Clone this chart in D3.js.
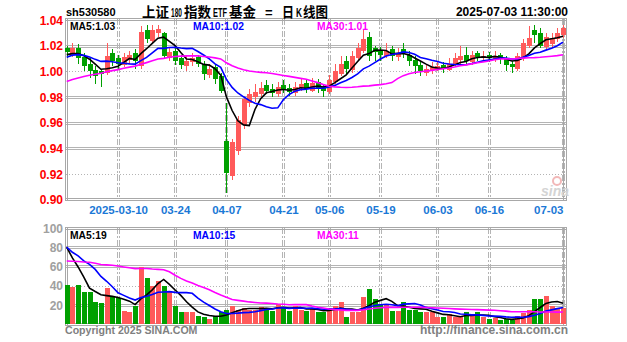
<!DOCTYPE html>
<html><head><meta charset="utf-8">
<script src="https://cdn.jsdelivr.net/npm/d3@7/dist/d3.min.js"></script>
<style>body{margin:0;background:#fff;}svg{display:block;}</style>
</head><body><svg id="c" width="627" height="342"></svg>
<script>
const symbol = "sh530580";
const titleParts = ["上证", "180", "指数", "ETF", "基金", "=", "日", "K", "线图"];
const stamp = "2025-07-03 11:30:00";
const dates = ["02-25","02-26","02-27","02-28","03-03","03-04","03-05","03-06","03-07","03-10",
"03-11","03-12","03-13","03-14","03-17","03-18","03-19","03-20","03-21","03-24",
"03-25","03-26","03-27","03-28","03-31","04-01","04-02","04-03","04-07","04-08",
"04-09","04-10","04-11","04-14","04-15","04-16","04-17","04-18","04-21","04-22",
"04-23","04-24","04-25","04-28","04-29","04-30","05-06","05-07","05-08","05-09",
"05-12","05-13","05-14","05-15","05-16","05-19","05-20","05-21","05-22","05-23",
"05-26","05-27","05-28","05-29","05-30","06-03","06-04","06-05","06-06","06-09",
"06-10","06-11","06-12","06-13","06-16","06-17","06-18","06-19","06-20","06-23",
"06-24","06-25","06-26","06-27","06-30","07-01","07-02","07-03"];
const open = [1.018,1.013,1.018,1.011,1.006,1.001,1.000,0.999,1.014,1.010,
1.005,1.009,1.014,1.004,1.032,1.024,1.030,1.030,1.010,1.016,
1.010,1.004,1.007,1.011,1.006,0.997,1.003,0.996,0.946,0.918,
0.938,0.958,0.975,0.980,0.982,0.989,0.986,0.982,0.989,0.987,
0.983,0.987,0.991,0.985,0.992,0.988,0.984,0.992,0.998,1.008,
1.001,1.010,1.016,1.027,1.018,1.016,1.012,1.017,1.011,1.017,
1.013,1.009,1.005,0.999,1.001,1.002,1.005,1.001,1.005,1.009,
1.013,1.007,1.014,1.010,1.013,1.009,1.013,1.010,1.006,1.002,
1.010,1.020,1.032,1.030,1.019,1.021,1.025,1.028];
const high = [1.020,1.022,1.021,1.014,1.010,1.004,1.002,1.022,1.017,1.013,
1.014,1.016,1.017,1.035,1.036,1.036,1.036,1.031,1.019,1.018,
1.013,1.012,1.014,1.013,1.008,1.006,1.005,0.999,0.975,0.947,
0.965,0.980,0.986,0.990,0.992,0.993,0.990,0.992,0.993,0.990,
0.992,0.994,0.993,0.995,0.994,0.990,0.997,1.006,1.012,1.012,
1.016,1.022,1.033,1.031,1.020,1.019,1.022,1.020,1.018,1.022,
1.016,1.012,1.008,1.006,1.007,1.008,1.007,1.010,1.014,1.020,
1.019,1.016,1.016,1.016,1.015,1.016,1.014,1.012,1.008,1.014,
1.025,1.035,1.036,1.034,1.030,1.030,1.034,1.036];
const low = [1.010,1.011,1.006,1.000,0.995,0.990,0.988,0.997,1.004,1.002,
1.003,1.006,1.002,1.002,1.022,1.021,1.027,1.010,1.008,1.005,
1.002,1.000,1.004,1.003,0.993,0.995,0.990,0.983,0.905,0.915,
0.935,0.955,0.972,0.976,0.980,0.982,0.980,0.980,0.983,0.981,
0.981,0.985,0.983,0.984,0.983,0.980,0.982,0.990,0.996,0.998,
0.999,1.008,1.014,1.008,1.008,1.008,1.010,1.008,1.008,1.010,
1.004,0.998,0.996,0.996,0.998,1.000,0.999,1.000,1.003,1.006,
1.005,1.005,1.008,1.008,1.007,1.007,1.006,1.000,0.999,1.000,
1.008,1.018,1.022,1.018,1.017,1.019,1.023,1.026];
const close = [1.015,1.018,1.010,1.004,1.000,0.996,0.998,1.012,1.008,1.006,
1.011,1.013,1.008,1.031,1.025,1.032,1.033,1.012,1.015,1.008,
1.005,1.008,1.010,1.006,0.998,1.002,0.994,0.985,0.921,0.945,
0.962,0.978,0.982,0.984,0.987,0.985,0.983,0.988,0.986,0.984,
0.988,0.990,0.986,0.991,0.987,0.985,0.993,1.000,1.006,1.002,
1.012,1.018,1.025,1.012,1.015,1.013,1.016,1.012,1.014,1.014,
1.008,1.004,1.000,1.002,1.003,1.004,1.002,1.006,1.010,1.012,
1.008,1.013,1.011,1.012,1.010,1.012,1.010,1.005,1.003,1.012,
1.022,1.026,1.028,1.020,1.027,1.026,1.030,1.034];
const volume = [41,39,41,33,33,23,22,37,29,27,
14,12,19,59,48,40,45,40,33,19,
12,12,12,8,7,5,8,12,15,19,
15,17,15,15,18,17,14,21,17,14,
19,15,14,16,12,12,17,19,23,7,
12,12,28,36,26,21,21,14,14,23,
15,15,12,12,12,7,7,10,7,7,
13,8,12,7,5,6,4,5,4,8,
11,15,26,26,29,19,17,17];
// closes and volumes of the 29 sessions before the first shown day (for the moving averages)
const priorClose = [0.972,0.975,0.970,0.968,0.973,0.978,0.976,0.980,0.983,0.981,0.985,0.984,0.988,0.986,0.990,0.992,0.996,0.988,0.992,0.995,1.002,1.006,1.010,1.012,1.015,1.014,1.010,1.012,1.014];
const priorVolume = [45,52,48,40,55,60,47,42,50,44,38,46,53,49,58,55,51,98,125,112,92,78,85,70,75,95,88,86,90];
const priceTicks = [0.90,0.92,0.94,0.96,0.98,1.00,1.02,1.04];
const volTicks = [20,40,60,80,100];
const tickDates = ["03-10","03-24","04-07","04-21","05-06","05-19","06-03","06-16","07-03"];
const tickLabels = ["2025-03-10","03-24","04-07","04-21","05-06","05-19","06-03","06-16","07-03"];
const maPeriods = [5,10,30];
const maColors = ["#000000","#0000ff","#ff00ff"];
const priceMaLabels = ["MA5:1.03","MA10:1.02","MA30:1.01"];
const volMaLabels = ["MA5:19","MA10:15","MA30:11"];

const svg = d3.select("#c");
const L = 66, R = 566;
const x = d3.scalePoint().domain(dates).range([66.7, 563]);
const yP = d3.scaleLinear().domain([0.90, 1.04]).range([199.5, 20]);
const yV = d3.scaleLinear().domain([0, 100]).range([324, 228]);
const grid = "#b4b4b4";
const latin = "'Liberation Sans', Arial, sans-serif";
const cjk = "'Noto Sans CJK SC', sans-serif";

function ma(prior, arr, n) {
  const full = prior.concat(arr);
  return arr.map((_, i) => {
    const end = i + prior.length;
    return d3.mean(full.slice(end - n + 1, end + 1));
  });
}

function panel(y, ticks, top, bottom, dotted) {
  const g = svg.append("g").attr("shape-rendering", "crispEdges");
  ticks.forEach(t => {
    const yy = Math.round(y(t));
    if (dotted.includes(t)) {
      g.append("line").attr("x1", L).attr("x2", R).attr("y1", yy + 0.5).attr("y2", yy + 0.5)
        .attr("stroke", grid).attr("stroke-dasharray", "1,2");
    } else {
      [-1, 1].forEach(o => g.append("line").attr("x1", L).attr("x2", R)
        .attr("y1", yy + o + 0.5).attr("y2", yy + o + 0.5).attr("stroke", grid));
    }
  });
  tickDates.forEach(d => {
    const xx = Math.round(x(d));
    [-1, 1].forEach(o => g.append("line").attr("x1", xx + o + 0.5).attr("x2", xx + o + 0.5)
      .attr("y1", top).attr("y2", bottom).attr("stroke", grid).attr("stroke-dasharray", "6,2,2,2"));
  });
  [L - 1, L + 1, R - 3, R].forEach(xx => g.append("line").attr("x1", xx + 0.5).attr("x2", xx + 0.5)
    .attr("y1", top - 1).attr("y2", bottom + 2).attr("stroke", "#a8a8a8"));
  [top - 1, top + 1, bottom - 1, bottom + 1].forEach(yy => g.append("line").attr("x1", L - 1).attr("x2", R + 1)
    .attr("y1", yy + 0.5).attr("y2", yy + 0.5).attr("stroke", "#a8a8a8"));
}

panel(yP, [0.92, 0.94, 0.96, 0.98, 1.00, 1.02], 19, 199, [1.00, 0.92]);
panel(yV, [20, 40, 60, 80], 228, 324, [40]);

// watermark
svg.append("circle").attr("cx", 557).attr("cy", 181).attr("r", 4).attr("fill", "none").attr("stroke", "#f2b8b8").attr("stroke-width", 2);
svg.append("text").attr("x", 541).attr("y", 196).text("sina").attr("font-family", latin)
  .attr("font-size", 14).attr("font-weight", "bold").attr("font-style", "italic").attr("fill", "#d4d4d4");

const red = "#ff5a5a", green = "#00a000";
const up = dates.map((_, i) => close[i] >= open[i]);

// candles
const cg = svg.append("g").attr("shape-rendering", "crispEdges");
dates.forEach((d, i) => {
  const cx = Math.round(x(d));
  const col = up[i] ? red : green;
  cg.append("rect").attr("x", cx).attr("width", 1)
    .attr("y", yP(high[i])).attr("height", Math.max(1, yP(low[i]) - yP(high[i]))).attr("fill", col);
  const t = yP(Math.max(open[i], close[i])), b = yP(Math.min(open[i], close[i]));
  cg.append("rect").attr("x", cx - 2).attr("width", 5)
    .attr("y", t).attr("height", Math.max(1, b - t)).attr("fill", col);
});

// volume bars
const vg = svg.append("g").attr("shape-rendering", "crispEdges");
dates.forEach((d, i) => {
  const cx = Math.round(x(d));
  vg.append("rect").attr("x", cx - 2).attr("width", 5)
    .attr("y", yV(volume[i])).attr("height", yV(0) - yV(volume[i]))
    .attr("fill", up[i] ? red : green);
});

// moving averages
maPeriods.forEach((n, k) => {
  const pm = ma(priorClose, close, n);
  const vm = ma(priorVolume, volume, n);
  const lineP = d3.line().x((_, i) => x(dates[i])).y(v => yP(v));
  const lineV = d3.line().x((_, i) => x(dates[i])).y(v => yV(v));
  svg.append("path").attr("d", lineP(pm)).attr("fill", "none").attr("stroke", maColors[k]).attr("stroke-width", 1.6);
  svg.append("path").attr("d", lineV(vm)).attr("fill", "none").attr("stroke", maColors[k]).attr("stroke-width", 1.6);
});

// axis labels (price)
const ax = svg.append("g").call(d3.axisLeft(yP).tickValues(priceTicks).tickFormat(d3.format(".2f")).tickSize(0).tickPadding(0))
  .attr("transform", "translate(63,0)");
ax.select(".domain").remove();
ax.selectAll("text").attr("fill", "#ff0000").attr("font-size", 12).attr("font-weight", "bold").attr("font-family", latin).attr("dy", "0.35em");

const axv = svg.append("g").call(d3.axisLeft(yV).tickValues(volTicks).tickFormat(d3.format("d")).tickSize(0).tickPadding(0))
  .attr("transform", "translate(63,0)");
axv.select(".domain").remove();
axv.selectAll("text").attr("fill", "#a0a0a0").attr("font-size", 12).attr("font-weight", "bold").attr("font-family", latin).attr("dy", "0.35em");

const axd = svg.append("g").call(d3.axisBottom(x).tickValues(tickDates).tickFormat((d, i) => tickLabels[i]).tickSize(0).tickPadding(0))
  .attr("transform", "translate(0,206)");
axd.select(".domain").remove();
axd.selectAll("text").attr("fill", "#1a78d6").attr("font-size", 11.5).attr("font-weight", "bold").attr("font-family", latin).attr("dy", "0.71em");
axd.selectAll("text").filter((d, i) => i === tickDates.length - 1).attr("text-anchor", "end");

// legends
const legX = [70, 193, 317];
priceMaLabels.forEach((t, k) => svg.append("text").attr("x", legX[k]).attr("y", 29.5).text(t)
  .attr("fill", maColors[k]).attr("font-size", 10.3).attr("font-weight", "bold").attr("font-family", latin));
volMaLabels.forEach((t, k) => svg.append("text").attr("x", legX[k]).attr("y", 239).text(t)
  .attr("fill", maColors[k]).attr("font-size", 10.3).attr("font-weight", "bold").attr("font-family", latin));

// header
svg.append("text").attr("x", 66).attr("y", 16).text(symbol).attr("font-size", 11).attr("font-weight", "bold").attr("font-family", latin).attr("fill", "#000");
// title pieces [left x, width, latin?]; each piece squeezed horizontally to its width
const titleLayout = [[142, 27, 0], [171, 11, 1], [184, 27, 0], [213, 14, 1], [229, 27, 0], [265, 10, 1], [282, 12, 0], [296, 6, 1], [303, 25, 0]];
titleParts.forEach((p, i) => {
  const [lx, w, isLatin] = titleLayout[i];
  const t = svg.append("text").attr("x", 0).attr("y", 0).text(p)
    .attr("font-family", isLatin ? latin : cjk).attr("font-weight", "bold")
    .attr("font-size", isLatin ? 13 : 14).attr("fill", "#000");
  const nat = t.node().getComputedTextLength();
  const sx = Math.min(1, w / nat);
  t.attr("transform", `translate(${lx},17) scale(${sx},1)`);
});
svg.append("text").attr("x", 568).attr("y", 16).attr("text-anchor", "end").text(stamp).attr("font-size", 12).attr("font-weight", "bold").attr("font-family", latin).attr("fill", "#000");

// footer
svg.append("text").attr("x", 65).attr("y", 334).text("Copyright 2025 SINA.COM").attr("font-size", 10.6).attr("font-weight", "bold").attr("font-family", latin).attr("fill", "#808080");
svg.append("text").attr("x", 568).attr("y", 334).attr("text-anchor", "end").text("http://finance.sina.com.cn").attr("font-size", 12).attr("font-weight", "bold").attr("font-family", latin).attr("fill", "#808080");
</script></body></html>
